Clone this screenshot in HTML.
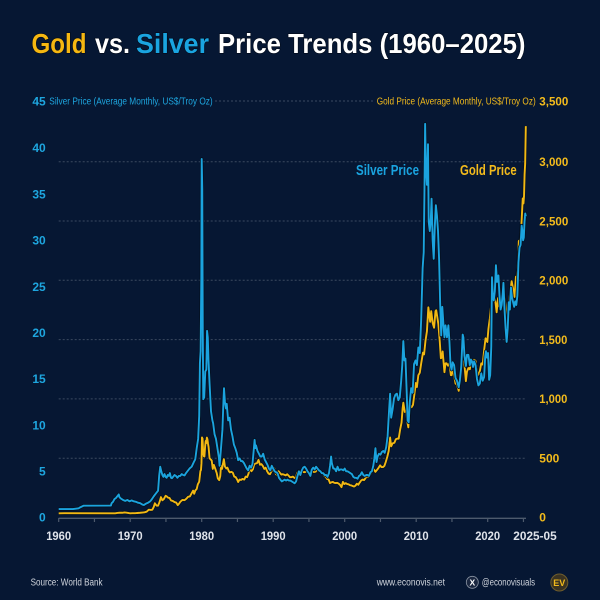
<!DOCTYPE html>
<html>
<head>
<meta charset="utf-8">
<style>
html,body{margin:0;padding:0;background:#061733;}
svg{display:block;}
text{font-family:"Liberation Sans",sans-serif;}
</style>
</head>
<body>
<svg width="600" height="600" viewBox="0 0 600 600" xmlns="http://www.w3.org/2000/svg">
<rect x="0" y="0" width="600" height="600" fill="#061733"/>

<!-- Title -->
<g font-weight="bold" font-size="28" stroke="#020a18" stroke-width="1.2" paint-order="stroke">
<text x="31.5" y="53" textLength="55" lengthAdjust="spacingAndGlyphs" fill="#f5b711">Gold</text>
<text x="95" y="53" textLength="35" lengthAdjust="spacingAndGlyphs" fill="#ffffff">vs.</text>
<text x="136" y="53" textLength="73" lengthAdjust="spacingAndGlyphs" fill="#1aa4e0">Silver</text>
<text x="218" y="53" textLength="307.5" lengthAdjust="spacingAndGlyphs" fill="#ffffff">Price Trends (1960–2025)</text>
</g>

<!-- Axis titles row -->
<text x="45.7" y="105.3" font-size="12" font-weight="bold" fill="#1ea6df" text-anchor="end">45</text>
<text x="49.3" y="104.6" font-size="10" fill="#1ea6df" textLength="163.4" lengthAdjust="spacingAndGlyphs">Silver Price (Average Monthly, US$/Troy Oz)</text>
<line x1="215" y1="101" x2="373" y2="101" stroke="#3b4a60" stroke-width="1" stroke-dasharray="2 2"/>
<text x="376.7" y="104.6" font-size="10" fill="#f3bb1c" textLength="159" lengthAdjust="spacingAndGlyphs">Gold Price (Average Monthly, US$/Troy Oz)</text>
<text x="539.3" y="105.3" font-size="12" font-weight="bold" fill="#f3bb1c" textLength="29" lengthAdjust="spacingAndGlyphs">3,500</text>

<!-- Gridlines -->
<g stroke="#3b4a60" stroke-width="1" stroke-dasharray="2 2">
<line x1="58.7" y1="458.2" x2="526" y2="458.2"/>
<line x1="58.7" y1="398.9" x2="526" y2="398.9"/>
<line x1="58.7" y1="339.6" x2="526" y2="339.6"/>
<line x1="58.7" y1="280.3" x2="526" y2="280.3"/>
<line x1="58.7" y1="221.0" x2="526" y2="221.0"/>
<line x1="58.7" y1="161.7" x2="526" y2="161.7"/>
</g>

<!-- Left (silver) labels -->
<g font-size="12" font-weight="bold" fill="#1ea6df" text-anchor="end">
<text x="45.7" y="152.2">40</text>
<text x="45.7" y="198.4">35</text>
<text x="45.7" y="244.6">30</text>
<text x="45.7" y="290.8">25</text>
<text x="45.7" y="337.0">20</text>
<text x="45.7" y="383.2">15</text>
<text x="45.7" y="429.4">10</text>
<text x="45.7" y="475.6">5</text>
<text x="45.7" y="521.5">0</text>
</g>

<!-- Right (gold) labels -->
<g font-size="12" font-weight="bold" fill="#f3bb1c">
<text x="539.3" y="166.0" textLength="29" lengthAdjust="spacingAndGlyphs">3,000</text>
<text x="539.3" y="225.3" textLength="29" lengthAdjust="spacingAndGlyphs">2,500</text>
<text x="539.3" y="284.6" textLength="29" lengthAdjust="spacingAndGlyphs">2,000</text>
<text x="539.3" y="343.9" textLength="28" lengthAdjust="spacingAndGlyphs">1,500</text>
<text x="539.3" y="403.2" textLength="28" lengthAdjust="spacingAndGlyphs">1,000</text>
<text x="539.3" y="462.5">500</text>
<text x="539.3" y="521.5">0</text>
</g>

<!-- Gold series -->
<g transform="translate(58.7,517.5) scale(7.15,-0.1186)">
<polyline fill="none" stroke="#04101f" stroke-width="3.4" vector-effect="non-scaling-stroke" stroke-linejoin="round" points="0,35.3 0.8,36 7.9,35.2 8.2,38 8.5,40 8.9,40 9.2,43 9.5,41 9.8,37 10.0,35 10.3,36 10.7,36 11.0,38 11.4,40 11.7,42 12.0,44 12.3,49 12.6,66 12.9,64 13.1,66 13.3,90 13.45,120 13.7,100 13.9,100 14.1,130 14.3,172 14.5,145 14.7,155 14.95,183 15.1,178 15.3,167 15.5,165 15.7,144 15.95,140 16.2,130 16.45,125 16.65,104 16.85,118 17.0,132 17.3,148 17.6,146 17.85,158 18.1,175 18.35,178 18.6,205 18.8,227 18.95,200 19.1,227 19.3,240 19.45,279 19.65,302 19.75,355 19.82,392 19.9,400 19.97,459 20.04,675 20.12,665 20.2,554 20.3,517 20.38,514 20.48,600 20.56,645 20.64,627 20.72,674 20.8,661 20.88,623 20.96,595 21.1,500 21.25,490 21.4,480 21.55,410 21.7,443 21.9,410 22.1,375 22.25,330 22.45,315 22.6,350 22.7,436 22.85,410 22.95,445 23.1,492 23.25,430 23.45,413 23.6,420 23.8,390 23.95,380 24.15,385 24.35,378 24.55,345 24.75,340 24.95,320 25.1,299 25.3,320 25.5,317 25.7,325 25.95,320 26.15,345 26.35,340 26.55,370 26.75,425 26.95,390 27.15,405 27.35,450 27.55,455 27.75,460 27.95,486 28.15,445 28.35,450 28.55,435 28.75,410 28.95,420 29.15,390 29.35,370 29.55,365 29.75,390 29.95,405 30.15,415 30.35,370 30.55,355 30.75,390 30.95,375 31.15,362 31.35,365 31.55,360 31.75,355 31.95,365 32.15,353 32.35,340 32.55,340 32.75,345 32.95,335 33.15,330 33.35,375 33.55,392 33.75,360 33.95,380 34.15,385 34.35,382 34.55,385 34.75,390 34.95,380 35.15,380 35.35,390 35.55,385 35.75,384 35.95,387 36.1,405 36.35,393 36.55,385 36.75,380 36.95,369 37.15,350 37.35,343 37.55,325 37.75,320 37.95,290 38.15,297 38.35,300 38.55,292 38.75,290 38.95,292 39.15,286 39.35,275 39.55,256 39.75,300 39.95,282 40.15,290 40.35,282 40.55,280 40.75,272 40.95,270 41.15,265 41.3,261 41.5,268 41.7,285 41.9,276 42.1,295 42.3,312 42.5,320 42.7,315 42.9,330 43.1,356 43.3,340 43.5,355 43.7,375 43.9,400 44.1,405 44.3,385 44.5,400 44.7,415 44.95,440 45.15,425 45.35,425 45.55,435 45.75,470 45.95,510 46.15,560 46.35,675 46.5,600 46.7,625 46.95,630 47.15,660 47.35,665 47.55,665 47.75,740 47.95,800 48.1,920 48.2,968 48.4,890 48.6,900 48.75,810 48.9,760 48.95,815 49.15,940 49.35,930 49.55,950 49.75,1040 49.95,1134 50.1,1100 50.3,1200 50.5,1220 50.7,1300 50.95,1390 51.1,1375 51.3,1490 51.5,1570 51.7,1772 51.85,1700 51.95,1650 52.1,1740 52.3,1640 52.5,1600 52.7,1740 52.8,1747 52.95,1690 53.1,1630 53.3,1480 53.45,1342 53.6,1350 53.7,1400 53.95,1225 54.1,1300 54.25,1300 54.45,1280 54.65,1300 54.85,1200 54.95,1200 55.1,1250 55.3,1200 55.5,1130 55.7,1120 55.95,1068 56.1,1200 56.3,1260 56.5,1337 56.7,1320 56.95,1150 57.1,1230 57.3,1260 57.5,1250 57.7,1320 57.95,1265 58.1,1330 58.3,1320 58.5,1240 58.65,1202 58.85,1220 58.95,1250 59.1,1300 59.3,1290 59.5,1410 59.7,1511 59.95,1480 60.1,1590 60.3,1680 60.5,1800 60.62,1968 60.8,1880 60.95,1860 61.1,1810 61.25,1730 61.45,1850 61.6,1780 61.8,1780 61.95,1790 62.2,1948 62.35,1860 62.55,1760 62.7,1681 62.85,1730 62.95,1790 63.15,1900 63.35,1992 63.55,1930 63.75,1860 63.95,2030 64.1,2030 64.25,2160 64.35,2331 64.55,2340 64.7,2450 64.8,2570 64.9,2690 65.0,2648 65.08,2709 65.16,2895 65.24,2984 65.3,3193 65.33,3300"/>
<polyline fill="none" stroke="#f2b813" stroke-width="1.9" vector-effect="non-scaling-stroke" stroke-linejoin="round" points="0,35.3 0.8,36 7.9,35.2 8.2,38 8.5,40 8.9,40 9.2,43 9.5,41 9.8,37 10.0,35 10.3,36 10.7,36 11.0,38 11.4,40 11.7,42 12.0,44 12.3,49 12.6,66 12.9,64 13.1,66 13.3,90 13.45,120 13.7,100 13.9,100 14.1,130 14.3,172 14.5,145 14.7,155 14.95,183 15.1,178 15.3,167 15.5,165 15.7,144 15.95,140 16.2,130 16.45,125 16.65,104 16.85,118 17.0,132 17.3,148 17.6,146 17.85,158 18.1,175 18.35,178 18.6,205 18.8,227 18.95,200 19.1,227 19.3,240 19.45,279 19.65,302 19.75,355 19.82,392 19.9,400 19.97,459 20.04,675 20.12,665 20.2,554 20.3,517 20.38,514 20.48,600 20.56,645 20.64,627 20.72,674 20.8,661 20.88,623 20.96,595 21.1,500 21.25,490 21.4,480 21.55,410 21.7,443 21.9,410 22.1,375 22.25,330 22.45,315 22.6,350 22.7,436 22.85,410 22.95,445 23.1,492 23.25,430 23.45,413 23.6,420 23.8,390 23.95,380 24.15,385 24.35,378 24.55,345 24.75,340 24.95,320 25.1,299 25.3,320 25.5,317 25.7,325 25.95,320 26.15,345 26.35,340 26.55,370 26.75,425 26.95,390 27.15,405 27.35,450 27.55,455 27.75,460 27.95,486 28.15,445 28.35,450 28.55,435 28.75,410 28.95,420 29.15,390 29.35,370 29.55,365 29.75,390 29.95,405 30.15,415 30.35,370 30.55,355 30.75,390 30.95,375 31.15,362 31.35,365 31.55,360 31.75,355 31.95,365 32.15,353 32.35,340 32.55,340 32.75,345 32.95,335 33.15,330 33.35,375 33.55,392 33.75,360 33.95,380 34.15,385 34.35,382 34.55,385 34.75,390 34.95,380 35.15,380 35.35,390 35.55,385 35.75,384 35.95,387 36.1,405 36.35,393 36.55,385 36.75,380 36.95,369 37.15,350 37.35,343 37.55,325 37.75,320 37.95,290 38.15,297 38.35,300 38.55,292 38.75,290 38.95,292 39.15,286 39.35,275 39.55,256 39.75,300 39.95,282 40.15,290 40.35,282 40.55,280 40.75,272 40.95,270 41.15,265 41.3,261 41.5,268 41.7,285 41.9,276 42.1,295 42.3,312 42.5,320 42.7,315 42.9,330 43.1,356 43.3,340 43.5,355 43.7,375 43.9,400 44.1,405 44.3,385 44.5,400 44.7,415 44.95,440 45.15,425 45.35,425 45.55,435 45.75,470 45.95,510 46.15,560 46.35,675 46.5,600 46.7,625 46.95,630 47.15,660 47.35,665 47.55,665 47.75,740 47.95,800 48.1,920 48.2,968 48.4,890 48.6,900 48.75,810 48.9,760 48.95,815 49.15,940 49.35,930 49.55,950 49.75,1040 49.95,1134 50.1,1100 50.3,1200 50.5,1220 50.7,1300 50.95,1390 51.1,1375 51.3,1490 51.5,1570 51.7,1772 51.85,1700 51.95,1650 52.1,1740 52.3,1640 52.5,1600 52.7,1740 52.8,1747 52.95,1690 53.1,1630 53.3,1480 53.45,1342 53.6,1350 53.7,1400 53.95,1225 54.1,1300 54.25,1300 54.45,1280 54.65,1300 54.85,1200 54.95,1200 55.1,1250 55.3,1200 55.5,1130 55.7,1120 55.95,1068 56.1,1200 56.3,1260 56.5,1337 56.7,1320 56.95,1150 57.1,1230 57.3,1260 57.5,1250 57.7,1320 57.95,1265 58.1,1330 58.3,1320 58.5,1240 58.65,1202 58.85,1220 58.95,1250 59.1,1300 59.3,1290 59.5,1410 59.7,1511 59.95,1480 60.1,1590 60.3,1680 60.5,1800 60.62,1968 60.8,1880 60.95,1860 61.1,1810 61.25,1730 61.45,1850 61.6,1780 61.8,1780 61.95,1790 62.2,1948 62.35,1860 62.55,1760 62.7,1681 62.85,1730 62.95,1790 63.15,1900 63.35,1992 63.55,1930 63.75,1860 63.95,2030 64.1,2030 64.25,2160 64.35,2331 64.55,2340 64.7,2450 64.8,2570 64.9,2690 65.0,2648 65.08,2709 65.16,2895 65.24,2984 65.3,3193 65.33,3300"/>
</g>

<!-- Silver series -->
<g transform="translate(58.7,517.5) scale(7.15,-9.24)">
<polyline fill="none" stroke="#04101f" stroke-width="3.4" vector-effect="non-scaling-stroke" stroke-linejoin="round" points="0,0.91 2.0,0.91 2.8,1.0 3.0,1.1 3.5,1.28 7.3,1.29 7.4,1.55 7.6,1.7 7.8,2.0 8.0,2.1 8.2,2.3 8.4,2.5 8.5,2.2 8.7,2.05 9.0,1.9 9.3,1.8 9.6,1.9 9.9,1.75 10.2,1.85 10.5,1.75 10.8,1.7 11.1,1.6 11.4,1.55 11.7,1.4 11.9,1.35 12.2,1.5 12.5,1.6 12.8,1.75 13.0,1.95 13.3,2.3 13.6,2.6 13.9,2.9 14.05,4.5 14.2,5.5 14.35,5.0 14.5,4.6 14.65,4.4 14.8,4.7 14.95,4.4 15.1,4.3 15.25,4.6 15.4,4.5 15.55,4.8 15.7,4.3 15.85,4.25 16.0,4.4 16.2,4.6 16.4,4.5 16.6,4.3 16.8,4.5 17.0,4.5 17.2,4.7 17.4,4.6 17.6,4.55 17.8,4.8 18.0,5.0 18.3,5.3 18.6,5.5 18.9,6.0 19.1,6.3 19.3,7.5 19.5,8.5 19.65,11 19.75,16.7 19.85,18 19.95,26 20.0,38.8 20.08,35.5 20.15,20 20.22,12.8 20.35,13 20.5,15.8 20.65,16 20.75,20.2 20.85,19.5 20.95,17 21.1,14.5 21.3,11.5 21.5,10.5 21.6,10.2 21.8,9 22.0,8.5 22.2,7.5 22.4,6.5 22.5,5.6 22.7,7.5 22.9,9.5 23.05,12.8 23.12,14.0 23.25,12.5 23.4,11.8 23.5,12.3 23.7,10.5 23.9,10.8 24.1,9.5 24.3,8.8 24.5,7.9 24.7,7.5 24.9,7.0 25.1,6.2 25.3,6.4 25.5,6.1 25.7,6.1 25.9,5.9 26.1,5.6 26.3,5.3 26.5,5.1 26.7,5.6 26.9,5.4 27.1,5.8 27.3,7.5 27.4,8.4 27.5,7.5 27.6,7.8 27.8,7.2 28.0,6.9 28.2,6.6 28.4,6.6 28.6,6.9 28.8,6.3 29.0,6.0 29.2,5.7 29.4,5.3 29.6,5.1 29.8,5.6 30.0,5.3 30.2,5.0 30.4,4.9 30.6,4.8 30.8,4.3 31.0,4.1 31.2,3.9 31.4,4.0 31.6,4.1 31.8,4.0 32.0,4.1 32.2,4.0 32.4,4.0 32.6,3.9 32.8,3.8 33.0,3.7 33.2,3.9 33.4,4.5 33.6,5.0 33.8,4.6 34.0,5.1 34.2,5.4 34.4,5.5 34.6,5.3 34.8,5.0 35.0,4.8 35.2,4.5 35.4,5.2 35.6,5.4 35.8,5.2 36.0,5.5 36.2,5.3 36.4,5.1 36.6,5.0 36.8,4.8 37.0,4.8 37.2,4.6 37.4,4.6 37.6,4.4 37.8,4.8 37.95,5.6 38.1,6.6 38.2,5.9 38.4,5.3 38.6,5.3 38.8,5.0 39.0,5.5 39.2,5.1 39.4,5.2 39.6,5.2 39.8,5.1 40.0,5.3 40.2,5.0 40.4,5.0 40.6,4.9 40.8,4.8 41.0,4.7 41.2,4.4 41.4,4.3 41.6,4.3 41.8,4.2 42.0,4.5 42.2,4.6 42.4,4.9 42.6,4.6 42.8,4.5 43.0,4.6 43.2,4.6 43.4,4.5 43.6,4.9 43.8,5.0 44.0,5.6 44.15,6.4 44.3,7.5 44.45,6.0 44.6,6.6 44.8,6.9 45.0,6.8 45.2,7.1 45.4,7.2 45.6,7.0 45.8,7.6 46.0,8.8 46.2,11.5 46.35,13.4 46.5,10.8 46.7,11.7 46.9,12.9 47.1,13.3 47.3,13.4 47.5,12.7 47.7,13.0 47.9,14.8 48.05,16.5 48.2,19.1 48.35,17 48.5,17.2 48.65,14 48.8,10.5 48.95,10.3 49.1,12.5 49.3,14 49.5,13.5 49.7,16.6 49.9,17 50.1,16.5 50.3,18.4 50.5,17.8 50.7,21.5 50.9,27 51.05,28.7 51.15,35 51.25,42.6 51.35,38 51.5,36 51.65,40.4 51.75,32 51.9,31 52.05,32.4 52.15,34.5 52.3,30 52.45,28 52.6,31.5 52.75,33.8 52.9,32.7 53.05,31 53.2,28 53.35,23.2 53.5,19.7 53.65,22.8 53.8,21.0 53.95,19.5 54.1,20.8 54.3,19.5 54.5,20.8 54.65,19 54.8,16.5 54.95,16 55.1,16.8 55.3,16.5 55.5,15.1 55.7,14.8 55.95,14.1 56.1,14.8 56.3,16.3 56.5,19.8 56.6,19.5 56.75,17.5 56.95,16.4 57.1,17.6 57.3,17.6 57.5,16.5 57.65,17.1 57.8,16.9 57.95,16.3 58.1,16.9 58.3,16.5 58.5,15.0 58.7,14.3 58.9,14.5 59.1,15.6 59.3,14.8 59.5,15.2 59.65,17.4 59.75,18.0 59.9,17.3 60.05,17.8 60.2,14.9 60.35,15.4 60.5,18.5 60.6,26.0 60.7,24.3 60.85,23.5 61.0,24.5 61.1,26.3 61.15,27.3 61.3,25.5 61.5,26.2 61.65,24.0 61.8,22.5 61.95,23.0 62.1,24.2 62.2,25.4 62.35,22.6 62.5,20.5 62.65,19.0 62.8,20.5 62.95,23.3 63.1,22.5 63.25,24.9 63.4,23.8 63.55,23.3 63.7,22.8 63.85,23.4 64.0,23.0 64.15,24.0 64.3,27.6 64.45,29.2 64.6,29.5 64.75,31.6 64.85,31.0 64.95,30.0 65.05,30.3 65.15,32.0 65.25,32.9 65.33,32.6"/>
<polyline fill="none" stroke="#1ba3de" stroke-width="1.9" vector-effect="non-scaling-stroke" stroke-linejoin="round" points="0,0.91 2.0,0.91 2.8,1.0 3.0,1.1 3.5,1.28 7.3,1.29 7.4,1.55 7.6,1.7 7.8,2.0 8.0,2.1 8.2,2.3 8.4,2.5 8.5,2.2 8.7,2.05 9.0,1.9 9.3,1.8 9.6,1.9 9.9,1.75 10.2,1.85 10.5,1.75 10.8,1.7 11.1,1.6 11.4,1.55 11.7,1.4 11.9,1.35 12.2,1.5 12.5,1.6 12.8,1.75 13.0,1.95 13.3,2.3 13.6,2.6 13.9,2.9 14.05,4.5 14.2,5.5 14.35,5.0 14.5,4.6 14.65,4.4 14.8,4.7 14.95,4.4 15.1,4.3 15.25,4.6 15.4,4.5 15.55,4.8 15.7,4.3 15.85,4.25 16.0,4.4 16.2,4.6 16.4,4.5 16.6,4.3 16.8,4.5 17.0,4.5 17.2,4.7 17.4,4.6 17.6,4.55 17.8,4.8 18.0,5.0 18.3,5.3 18.6,5.5 18.9,6.0 19.1,6.3 19.3,7.5 19.5,8.5 19.65,11 19.75,16.7 19.85,18 19.95,26 20.0,38.8 20.08,35.5 20.15,20 20.22,12.8 20.35,13 20.5,15.8 20.65,16 20.75,20.2 20.85,19.5 20.95,17 21.1,14.5 21.3,11.5 21.5,10.5 21.6,10.2 21.8,9 22.0,8.5 22.2,7.5 22.4,6.5 22.5,5.6 22.7,7.5 22.9,9.5 23.05,12.8 23.12,14.0 23.25,12.5 23.4,11.8 23.5,12.3 23.7,10.5 23.9,10.8 24.1,9.5 24.3,8.8 24.5,7.9 24.7,7.5 24.9,7.0 25.1,6.2 25.3,6.4 25.5,6.1 25.7,6.1 25.9,5.9 26.1,5.6 26.3,5.3 26.5,5.1 26.7,5.6 26.9,5.4 27.1,5.8 27.3,7.5 27.4,8.4 27.5,7.5 27.6,7.8 27.8,7.2 28.0,6.9 28.2,6.6 28.4,6.6 28.6,6.9 28.8,6.3 29.0,6.0 29.2,5.7 29.4,5.3 29.6,5.1 29.8,5.6 30.0,5.3 30.2,5.0 30.4,4.9 30.6,4.8 30.8,4.3 31.0,4.1 31.2,3.9 31.4,4.0 31.6,4.1 31.8,4.0 32.0,4.1 32.2,4.0 32.4,4.0 32.6,3.9 32.8,3.8 33.0,3.7 33.2,3.9 33.4,4.5 33.6,5.0 33.8,4.6 34.0,5.1 34.2,5.4 34.4,5.5 34.6,5.3 34.8,5.0 35.0,4.8 35.2,4.5 35.4,5.2 35.6,5.4 35.8,5.2 36.0,5.5 36.2,5.3 36.4,5.1 36.6,5.0 36.8,4.8 37.0,4.8 37.2,4.6 37.4,4.6 37.6,4.4 37.8,4.8 37.95,5.6 38.1,6.6 38.2,5.9 38.4,5.3 38.6,5.3 38.8,5.0 39.0,5.5 39.2,5.1 39.4,5.2 39.6,5.2 39.8,5.1 40.0,5.3 40.2,5.0 40.4,5.0 40.6,4.9 40.8,4.8 41.0,4.7 41.2,4.4 41.4,4.3 41.6,4.3 41.8,4.2 42.0,4.5 42.2,4.6 42.4,4.9 42.6,4.6 42.8,4.5 43.0,4.6 43.2,4.6 43.4,4.5 43.6,4.9 43.8,5.0 44.0,5.6 44.15,6.4 44.3,7.5 44.45,6.0 44.6,6.6 44.8,6.9 45.0,6.8 45.2,7.1 45.4,7.2 45.6,7.0 45.8,7.6 46.0,8.8 46.2,11.5 46.35,13.4 46.5,10.8 46.7,11.7 46.9,12.9 47.1,13.3 47.3,13.4 47.5,12.7 47.7,13.0 47.9,14.8 48.05,16.5 48.2,19.1 48.35,17 48.5,17.2 48.65,14 48.8,10.5 48.95,10.3 49.1,12.5 49.3,14 49.5,13.5 49.7,16.6 49.9,17 50.1,16.5 50.3,18.4 50.5,17.8 50.7,21.5 50.9,27 51.05,28.7 51.15,35 51.25,42.6 51.35,38 51.5,36 51.65,40.4 51.75,32 51.9,31 52.05,32.4 52.15,34.5 52.3,30 52.45,28 52.6,31.5 52.75,33.8 52.9,32.7 53.05,31 53.2,28 53.35,23.2 53.5,19.7 53.65,22.8 53.8,21.0 53.95,19.5 54.1,20.8 54.3,19.5 54.5,20.8 54.65,19 54.8,16.5 54.95,16 55.1,16.8 55.3,16.5 55.5,15.1 55.7,14.8 55.95,14.1 56.1,14.8 56.3,16.3 56.5,19.8 56.6,19.5 56.75,17.5 56.95,16.4 57.1,17.6 57.3,17.6 57.5,16.5 57.65,17.1 57.8,16.9 57.95,16.3 58.1,16.9 58.3,16.5 58.5,15.0 58.7,14.3 58.9,14.5 59.1,15.6 59.3,14.8 59.5,15.2 59.65,17.4 59.75,18.0 59.9,17.3 60.05,17.8 60.2,14.9 60.35,15.4 60.5,18.5 60.6,26.0 60.7,24.3 60.85,23.5 61.0,24.5 61.1,26.3 61.15,27.3 61.3,25.5 61.5,26.2 61.65,24.0 61.8,22.5 61.95,23.0 62.1,24.2 62.2,25.4 62.35,22.6 62.5,20.5 62.65,19.0 62.8,20.5 62.95,23.3 63.1,22.5 63.25,24.9 63.4,23.8 63.55,23.3 63.7,22.8 63.85,23.4 64.0,23.0 64.15,24.0 64.3,27.6 64.45,29.2 64.6,29.5 64.75,31.6 64.85,31.0 64.95,30.0 65.05,30.3 65.15,32.0 65.25,32.9 65.33,32.6"/>
</g>

<!-- X axis -->
<line x1="58.7" y1="518.3" x2="526" y2="518.3" stroke="#4d5a6d" stroke-width="1.3"/>
<g stroke="#4d5a6d" stroke-width="1.2">
<line x1="58.7" y1="518" x2="58.7" y2="522"/>
<line x1="94.45" y1="518" x2="94.45" y2="522"/>
<line x1="130.2" y1="518" x2="130.2" y2="522"/>
<line x1="165.95" y1="518" x2="165.95" y2="522"/>
<line x1="201.7" y1="518" x2="201.7" y2="522"/>
<line x1="237.45" y1="518" x2="237.45" y2="522"/>
<line x1="273.2" y1="518" x2="273.2" y2="522"/>
<line x1="308.95" y1="518" x2="308.95" y2="522"/>
<line x1="344.7" y1="518" x2="344.7" y2="522"/>
<line x1="380.45" y1="518" x2="380.45" y2="522"/>
<line x1="416.2" y1="518" x2="416.2" y2="522"/>
<line x1="451.95" y1="518" x2="451.95" y2="522"/>
<line x1="487.7" y1="518" x2="487.7" y2="522"/>
<line x1="523.45" y1="518" x2="523.45" y2="522"/>
</g>
<g font-size="12" font-weight="bold" fill="#dfe3ea" text-anchor="middle">
<text x="58.7" y="540" textLength="25" lengthAdjust="spacingAndGlyphs">1960</text>
<text x="130.2" y="540" textLength="25" lengthAdjust="spacingAndGlyphs">1970</text>
<text x="201.7" y="540" textLength="25" lengthAdjust="spacingAndGlyphs">1980</text>
<text x="273.2" y="540" textLength="25" lengthAdjust="spacingAndGlyphs">1990</text>
<text x="344.7" y="540" textLength="25" lengthAdjust="spacingAndGlyphs">2000</text>
<text x="416.2" y="540" textLength="25" lengthAdjust="spacingAndGlyphs">2010</text>
<text x="487.7" y="540" textLength="25" lengthAdjust="spacingAndGlyphs">2020</text>
</g>
<text x="513.3" y="540" font-size="12" font-weight="bold" fill="#dfe3ea" textLength="43.4" lengthAdjust="spacingAndGlyphs">2025-05</text>

<!-- Annotations -->
<text x="356" y="175" font-size="14.5" font-weight="bold" fill="#1aa4e0" textLength="63" lengthAdjust="spacingAndGlyphs">Silver Price</text>
<text x="460" y="175" font-size="14.5" font-weight="bold" fill="#f3bb1c" textLength="56.7" lengthAdjust="spacingAndGlyphs">Gold Price</text>

<!-- Footer -->
<text x="30.6" y="585.5" font-size="10" fill="#d0d5dd" textLength="72" lengthAdjust="spacingAndGlyphs">Source: World Bank</text>
<text x="376.7" y="585.7" font-size="10" fill="#d0d5dd" textLength="68.3" lengthAdjust="spacingAndGlyphs">www.econovis.net</text>
<circle cx="472.3" cy="582.3" r="6" fill="#1a2740" stroke="#8a94a3" stroke-width="0.8"/>
<text x="472.3" y="585.3" font-size="8.5" font-weight="bold" fill="#ffffff" text-anchor="middle">X</text>
<text x="481.7" y="585.7" font-size="10" fill="#d0d5dd" textLength="53.3" lengthAdjust="spacingAndGlyphs">@econovisuals</text>
<circle cx="559.3" cy="582.5" r="8.5" fill="#3a3322" stroke="#6e5c2c" stroke-width="1"/>
<text x="559.3" y="586" font-size="9" font-weight="bold" fill="#f3bb1c" text-anchor="middle">EV</text>
</svg>
</body>
</html>
